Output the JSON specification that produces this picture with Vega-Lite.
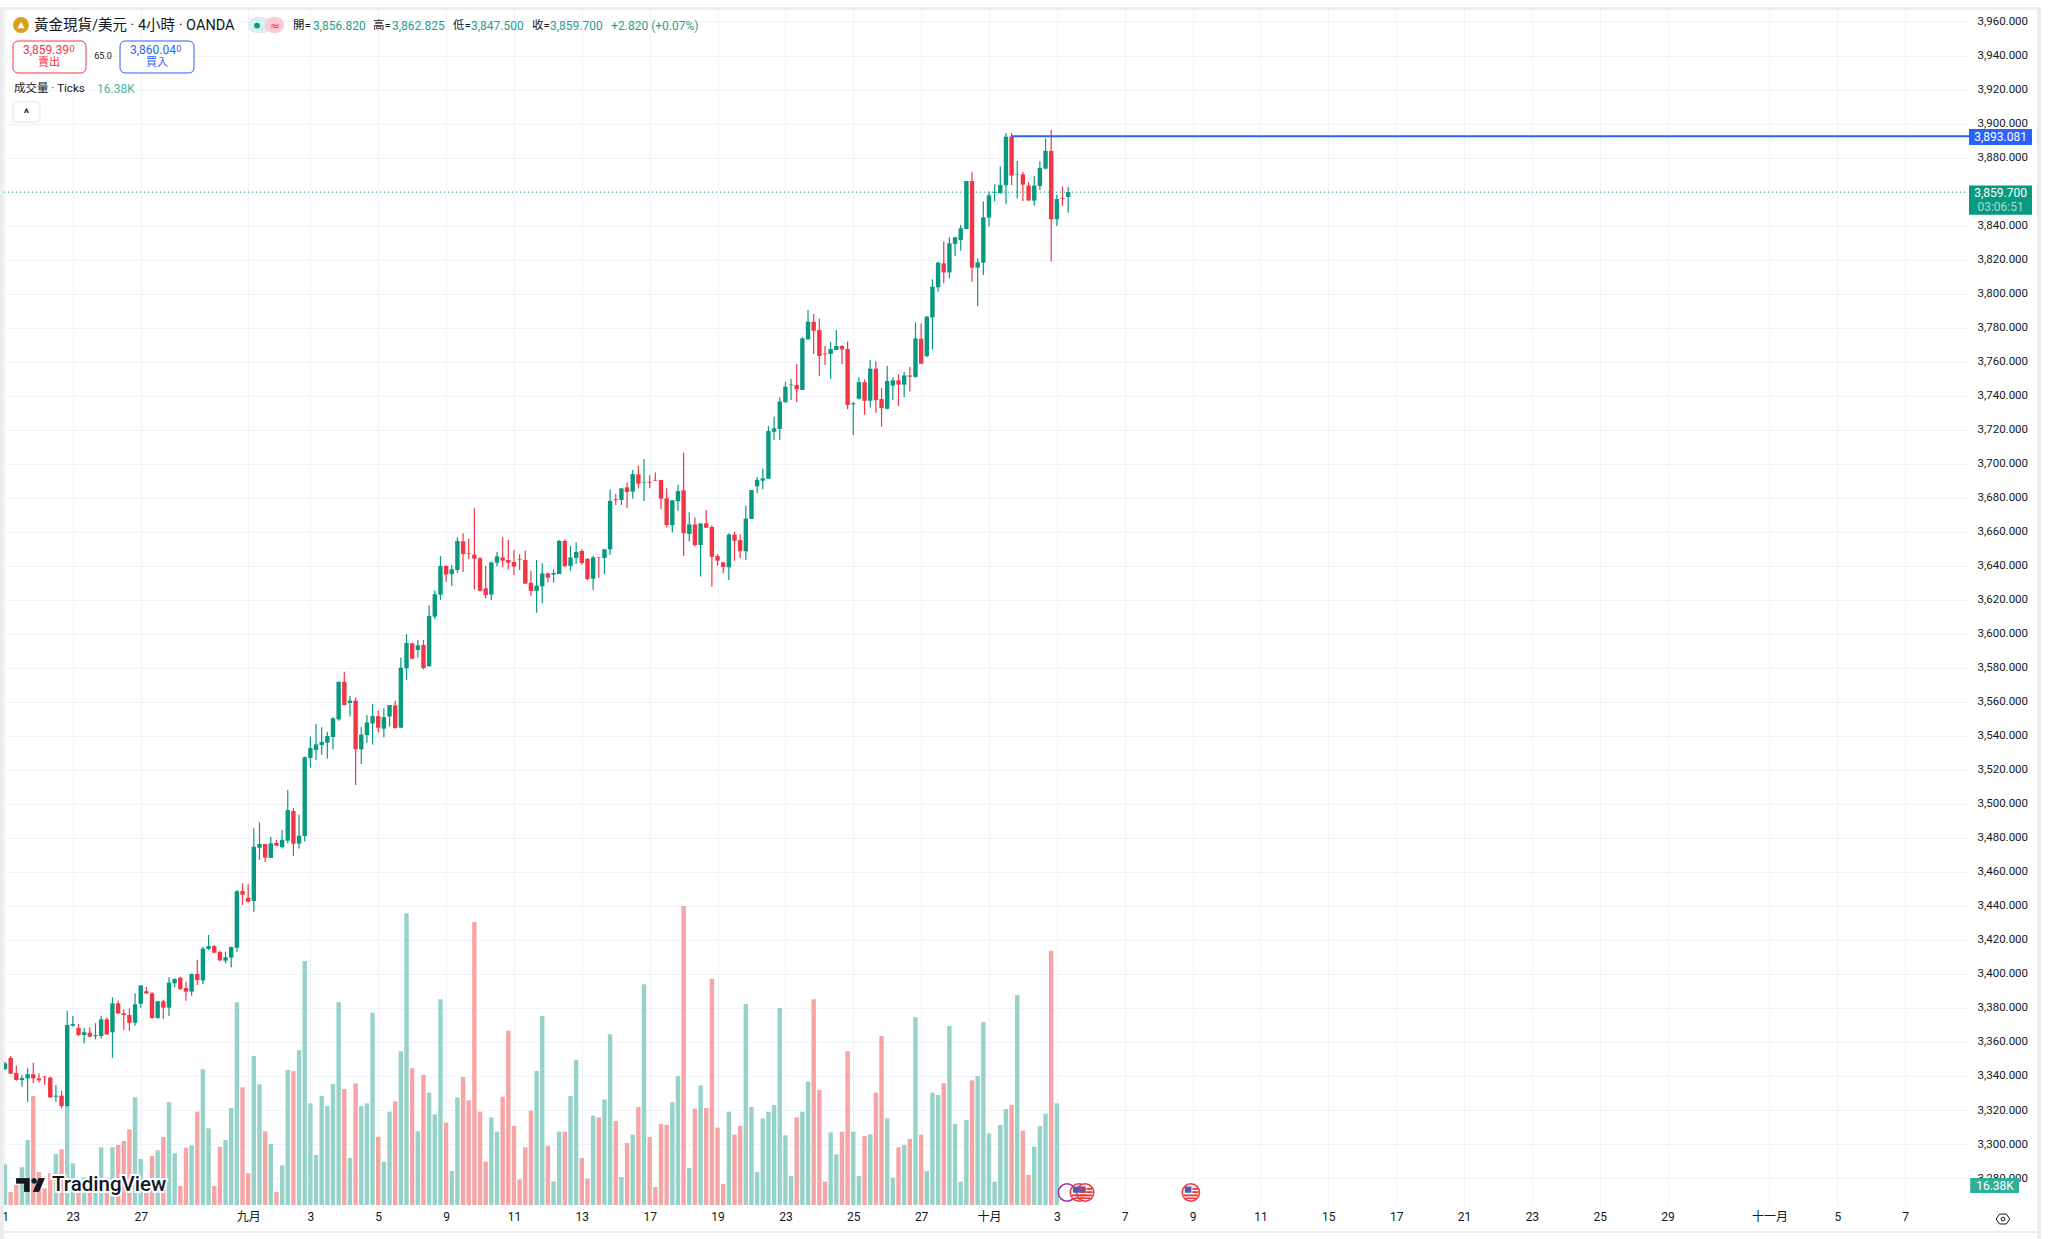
{
"$schema":"https://vega.github.io/schema/vega-lite/v6.json",
"width":1964,"height":1195,"autosize":"none","background":"white",
"padding":{"left":4,"top":10,"right":80,"bottom":34},
"config":{"view":{"stroke":null},"font":"Roboto, 'Noto Sans CJK TC'"},
"datasets":{
"candles":[
{"i":0,"dir":"up","o":3344.1,"c":3347.4,"h":3348.4,"l":3343.5},
{"i":1,"dir":"dn","o":3350.6,"c":3341.4,"h":3351.7,"l":3341.0},
{"i":2,"dir":"dn","o":3341.8,"c":3337.6,"h":3346.2,"l":3337.2},
{"i":3,"dir":"up","o":3337.6,"c":3338.8,"h":3340.6,"l":3333.7},
{"i":4,"dir":"up","o":3338.6,"c":3341.0,"h":3344.5,"l":3324.9},
{"i":5,"dir":"dn","o":3341.0,"c":3338.6,"h":3347.8,"l":3335.7},
{"i":6,"dir":"dn","o":3338.6,"c":3337.4,"h":3341.6,"l":3336.2},
{"i":7,"dir":"dn","o":3339.6,"c":3339.2,"h":3340.0,"l":3334.7},
{"i":8,"dir":"dn","o":3339.0,"c":3327.4,"h":3339.6,"l":3327.0},
{"i":9,"dir":"up","o":3327.8,"c":3328.4,"h":3334.7,"l":3324.9},
{"i":10,"dir":"dn","o":3328.4,"c":3322.3,"h":3331.4,"l":3321.0},
{"i":11,"dir":"up","o":3322.3,"c":3370.0,"h":3378.4,"l":3321.9},
{"i":12,"dir":"up","o":3369.6,"c":3370.6,"h":3375.3,"l":3369.0},
{"i":13,"dir":"dn","o":3368.2,"c":3364.1,"h":3370.6,"l":3363.5},
{"i":14,"dir":"up","o":3364.1,"c":3365.7,"h":3368.0,"l":3359.2},
{"i":15,"dir":"dn","o":3365.5,"c":3363.1,"h":3368.6,"l":3362.7},
{"i":16,"dir":"up","o":3363.5,"c":3364.1,"h":3371.0,"l":3361.5},
{"i":17,"dir":"up","o":3363.5,"c":3373.3,"h":3375.3,"l":3362.1},
{"i":18,"dir":"dn","o":3373.3,"c":3364.5,"h":3374.5,"l":3364.1},
{"i":19,"dir":"up","o":3365.7,"c":3382.7,"h":3386.2,"l":3350.6},
{"i":20,"dir":"dn","o":3382.7,"c":3376.8,"h":3384.3,"l":3376.4},
{"i":21,"dir":"dn","o":3376.8,"c":3375.8,"h":3379.2,"l":3367.0},
{"i":22,"dir":"dn","o":3375.8,"c":3371.3,"h":3379.8,"l":3366.6},
{"i":23,"dir":"up","o":3371.3,"c":3382.1,"h":3388.6,"l":3369.6},
{"i":24,"dir":"up","o":3382.5,"c":3393.3,"h":3393.3,"l":3380.2},
{"i":25,"dir":"dn","o":3389.8,"c":3388.6,"h":3392.5,"l":3388.2},
{"i":26,"dir":"dn","o":3388.6,"c":3374.1,"h":3389.4,"l":3373.7},
{"i":27,"dir":"up","o":3374.1,"c":3383.9,"h":3384.3,"l":3373.7},
{"i":28,"dir":"dn","o":3383.9,"c":3380.2,"h":3384.7,"l":3373.7},
{"i":29,"dir":"up","o":3380.2,"c":3394.9,"h":3398.0,"l":3375.3},
{"i":30,"dir":"up","o":3394.5,"c":3397.0,"h":3397.4,"l":3392.1},
{"i":31,"dir":"dn","o":3397.8,"c":3391.1,"h":3398.4,"l":3390.5},
{"i":32,"dir":"dn","o":3391.7,"c":3389.6,"h":3395.4,"l":3384.3},
{"i":33,"dir":"up","o":3389.6,"c":3400.0,"h":3400.3,"l":3387.2},
{"i":34,"dir":"dn","o":3400.0,"c":3396.4,"h":3408.2,"l":3393.5},
{"i":35,"dir":"up","o":3396.2,"c":3414.9,"h":3416.0,"l":3394.1},
{"i":36,"dir":"up","o":3414.7,"c":3416.4,"h":3422.9,"l":3414.1},
{"i":37,"dir":"dn","o":3416.4,"c":3412.5,"h":3417.0,"l":3412.1},
{"i":38,"dir":"dn","o":3412.9,"c":3408.0,"h":3413.7,"l":3407.4},
{"i":39,"dir":"up","o":3407.8,"c":3409.8,"h":3413.1,"l":3406.2},
{"i":40,"dir":"up","o":3409.6,"c":3415.8,"h":3416.0,"l":3403.9},
{"i":41,"dir":"up","o":3415.4,"c":3448.6,"h":3449.4,"l":3413.1},
{"i":42,"dir":"dn","o":3448.8,"c":3446.6,"h":3453.3,"l":3440.5},
{"i":43,"dir":"dn","o":3444.8,"c":3442.5,"h":3452.7,"l":3441.9},
{"i":44,"dir":"up","o":3442.9,"c":3474.8,"h":3485.6,"l":3436.6},
{"i":45,"dir":"up","o":3474.2,"c":3476.4,"h":3489.1,"l":3467.0},
{"i":46,"dir":"dn","o":3476.4,"c":3468.4,"h":3476.4,"l":3465.8},
{"i":47,"dir":"up","o":3468.2,"c":3476.8,"h":3480.7,"l":3468.2},
{"i":48,"dir":"dn","o":3477.0,"c":3475.4,"h":3478.8,"l":3475.2},
{"i":49,"dir":"up","o":3474.6,"c":3478.8,"h":3484.6,"l":3473.8},
{"i":50,"dir":"up","o":3478.4,"c":3496.4,"h":3508.2,"l":3476.8},
{"i":51,"dir":"dn","o":3495.8,"c":3476.6,"h":3497.4,"l":3469.3},
{"i":52,"dir":"up","o":3476.6,"c":3481.3,"h":3493.6,"l":3473.8},
{"i":53,"dir":"up","o":3481.1,"c":3527.4,"h":3527.8,"l":3477.8},
{"i":54,"dir":"up","o":3526.9,"c":3532.8,"h":3539.5,"l":3521.4},
{"i":55,"dir":"up","o":3531.7,"c":3535.0,"h":3546.9,"l":3525.8},
{"i":56,"dir":"up","o":3534.6,"c":3536.4,"h":3545.0,"l":3528.7},
{"i":57,"dir":"up","o":3536.0,"c":3539.9,"h":3542.4,"l":3526.6},
{"i":58,"dir":"up","o":3539.3,"c":3550.3,"h":3550.9,"l":3532.1},
{"i":59,"dir":"up","o":3549.7,"c":3571.8,"h":3571.8,"l":3548.9},
{"i":60,"dir":"dn","o":3571.8,"c":3558.1,"h":3577.7,"l":3557.9},
{"i":61,"dir":"up","o":3559.3,"c":3560.7,"h":3563.4,"l":3551.3},
{"i":62,"dir":"dn","o":3560.7,"c":3532.1,"h":3562.6,"l":3511.1},
{"i":63,"dir":"up","o":3532.1,"c":3540.7,"h":3545.0,"l":3523.4},
{"i":64,"dir":"up","o":3540.5,"c":3547.9,"h":3552.2,"l":3535.9},
{"i":65,"dir":"up","o":3547.3,"c":3551.6,"h":3558.7,"l":3534.8},
{"i":66,"dir":"dn","o":3551.6,"c":3544.8,"h":3554.8,"l":3542.0},
{"i":67,"dir":"up","o":3544.2,"c":3551.0,"h":3556.2,"l":3539.1},
{"i":68,"dir":"up","o":3551.4,"c":3558.1,"h":3558.1,"l":3545.4},
{"i":69,"dir":"dn","o":3557.9,"c":3544.6,"h":3560.7,"l":3544.2},
{"i":70,"dir":"up","o":3544.8,"c":3580.1,"h":3586.1,"l":3544.8},
{"i":71,"dir":"up","o":3579.7,"c":3594.6,"h":3599.7,"l":3572.8},
{"i":72,"dir":"dn","o":3594.4,"c":3585.4,"h":3594.8,"l":3585.0},
{"i":73,"dir":"up","o":3590.5,"c":3593.2,"h":3596.3,"l":3586.1},
{"i":74,"dir":"dn","o":3593.4,"c":3579.9,"h":3596.3,"l":3579.1},
{"i":75,"dir":"up","o":3580.9,"c":3610.4,"h":3616.7,"l":3580.7},
{"i":76,"dir":"up","o":3610.1,"c":3623.2,"h":3625.4,"l":3608.5},
{"i":77,"dir":"up","o":3623.0,"c":3639.9,"h":3645.7,"l":3619.9},
{"i":78,"dir":"dn","o":3639.9,"c":3634.8,"h":3640.2,"l":3630.6},
{"i":79,"dir":"up","o":3635.1,"c":3637.9,"h":3640.4,"l":3628.1},
{"i":80,"dir":"up","o":3637.5,"c":3654.6,"h":3656.7,"l":3635.9},
{"i":81,"dir":"dn","o":3654.4,"c":3646.9,"h":3659.1,"l":3636.3},
{"i":82,"dir":"dn","o":3647.3,"c":3646.9,"h":3655.9,"l":3643.8},
{"i":83,"dir":"dn","o":3646.5,"c":3644.2,"h":3673.8,"l":3626.1},
{"i":84,"dir":"dn","o":3644.4,"c":3625.3,"h":3645.3,"l":3624.8},
{"i":85,"dir":"dn","o":3626.7,"c":3622.8,"h":3639.9,"l":3620.8},
{"i":86,"dir":"up","o":3623.0,"c":3642.0,"h":3642.4,"l":3619.9},
{"i":87,"dir":"up","o":3641.8,"c":3645.5,"h":3648.1,"l":3639.5},
{"i":88,"dir":"dn","o":3644.9,"c":3643.0,"h":3656.7,"l":3639.1},
{"i":89,"dir":"dn","o":3643.4,"c":3641.8,"h":3655.1,"l":3637.9},
{"i":90,"dir":"dn","o":3642.2,"c":3639.5,"h":3649.3,"l":3634.6},
{"i":91,"dir":"dn","o":3644.0,"c":3643.6,"h":3646.7,"l":3637.5},
{"i":92,"dir":"dn","o":3643.4,"c":3629.5,"h":3648.9,"l":3629.3},
{"i":93,"dir":"dn","o":3629.9,"c":3625.2,"h":3637.1,"l":3622.4},
{"i":94,"dir":"up","o":3625.2,"c":3628.3,"h":3643.4,"l":3612.4},
{"i":95,"dir":"up","o":3627.9,"c":3635.5,"h":3641.4,"l":3617.9},
{"i":96,"dir":"dn","o":3635.5,"c":3633.0,"h":3635.9,"l":3630.2},
{"i":97,"dir":"up","o":3634.8,"c":3635.7,"h":3637.9,"l":3630.1},
{"i":98,"dir":"up","o":3635.1,"c":3654.6,"h":3655.1,"l":3635.1},
{"i":99,"dir":"dn","o":3654.6,"c":3639.9,"h":3655.5,"l":3639.1},
{"i":100,"dir":"up","o":3639.9,"c":3644.9,"h":3651.6,"l":3637.1},
{"i":101,"dir":"up","o":3644.6,"c":3648.1,"h":3653.8,"l":3641.0},
{"i":102,"dir":"dn","o":3648.7,"c":3641.6,"h":3649.7,"l":3640.6},
{"i":103,"dir":"dn","o":3644.0,"c":3632.2,"h":3644.6,"l":3631.6},
{"i":104,"dir":"up","o":3632.4,"c":3644.9,"h":3645.7,"l":3625.7},
{"i":105,"dir":"dn","o":3645.1,"c":3644.8,"h":3645.1,"l":3632.8},
{"i":106,"dir":"up","o":3644.6,"c":3649.7,"h":3649.7,"l":3635.1},
{"i":107,"dir":"up","o":3649.7,"c":3678.1,"h":3684.9,"l":3646.3},
{"i":108,"dir":"dn","o":3679.0,"c":3678.5,"h":3682.2,"l":3675.7},
{"i":109,"dir":"up","o":3678.7,"c":3685.5,"h":3685.5,"l":3675.7},
{"i":110,"dir":"dn","o":3686.1,"c":3683.4,"h":3688.9,"l":3673.8},
{"i":111,"dir":"up","o":3683.6,"c":3693.9,"h":3696.3,"l":3679.6},
{"i":112,"dir":"dn","o":3693.7,"c":3688.3,"h":3698.8,"l":3685.5},
{"i":113,"dir":"up","o":3688.9,"c":3689.2,"h":3702.8,"l":3678.1},
{"i":114,"dir":"dn","o":3689.4,"c":3688.9,"h":3693.4,"l":3685.5},
{"i":115,"dir":"dn","o":3690.2,"c":3689.8,"h":3694.9,"l":3689.8},
{"i":116,"dir":"dn","o":3690.4,"c":3679.4,"h":3690.4,"l":3673.2},
{"i":117,"dir":"dn","o":3679.6,"c":3664.0,"h":3685.5,"l":3662.6},
{"i":118,"dir":"up","o":3663.8,"c":3678.5,"h":3678.5,"l":3659.5},
{"i":119,"dir":"up","o":3677.9,"c":3683.9,"h":3687.7,"l":3672.4},
{"i":120,"dir":"dn","o":3684.3,"c":3659.1,"h":3706.5,"l":3645.7},
{"i":121,"dir":"up","o":3658.7,"c":3664.3,"h":3671.4,"l":3654.2},
{"i":122,"dir":"dn","o":3664.3,"c":3652.2,"h":3668.3,"l":3651.2},
{"i":123,"dir":"up","o":3652.2,"c":3664.9,"h":3664.9,"l":3633.6},
{"i":124,"dir":"dn","o":3664.9,"c":3662.4,"h":3672.8,"l":3662.2},
{"i":125,"dir":"dn","o":3662.8,"c":3645.3,"h":3663.8,"l":3627.7},
{"i":126,"dir":"dn","o":3645.7,"c":3643.0,"h":3646.7,"l":3640.0},
{"i":127,"dir":"dn","o":3642.0,"c":3639.3,"h":3642.0,"l":3635.5},
{"i":128,"dir":"up","o":3639.1,"c":3658.3,"h":3659.1,"l":3631.6},
{"i":129,"dir":"dn","o":3658.3,"c":3654.7,"h":3660.0,"l":3643.0},
{"i":130,"dir":"dn","o":3655.1,"c":3648.5,"h":3658.5,"l":3644.4},
{"i":131,"dir":"up","o":3648.5,"c":3667.7,"h":3675.5,"l":3643.4},
{"i":132,"dir":"up","o":3667.5,"c":3684.5,"h":3684.5,"l":3667.5},
{"i":133,"dir":"up","o":3686.7,"c":3690.4,"h":3692.0,"l":3682.6},
{"i":134,"dir":"up","o":3690.0,"c":3691.4,"h":3697.1,"l":3684.9},
{"i":135,"dir":"up","o":3691.2,"c":3719.2,"h":3722.2,"l":3691.2},
{"i":136,"dir":"up","o":3718.8,"c":3720.8,"h":3727.6,"l":3713.9},
{"i":137,"dir":"up","o":3720.4,"c":3736.5,"h":3739.0,"l":3713.9},
{"i":138,"dir":"up","o":3736.1,"c":3745.3,"h":3748.2,"l":3736.1},
{"i":139,"dir":"up","o":3746.1,"c":3746.5,"h":3749.8,"l":3737.4},
{"i":140,"dir":"dn","o":3746.3,"c":3743.7,"h":3758.6,"l":3736.1},
{"i":141,"dir":"up","o":3743.3,"c":3773.7,"h":3774.3,"l":3743.3},
{"i":142,"dir":"up","o":3773.1,"c":3783.5,"h":3790.4,"l":3773.1},
{"i":143,"dir":"dn","o":3783.5,"c":3778.2,"h":3788.0,"l":3764.5},
{"i":144,"dir":"dn","o":3778.6,"c":3763.3,"h":3785.3,"l":3751.6},
{"i":145,"dir":"dn","o":3764.7,"c":3764.3,"h":3769.2,"l":3758.0},
{"i":146,"dir":"up","o":3764.5,"c":3767.4,"h":3771.5,"l":3750.0},
{"i":147,"dir":"up","o":3766.8,"c":3769.2,"h":3778.6,"l":3766.8},
{"i":148,"dir":"dn","o":3769.2,"c":3767.2,"h":3769.6,"l":3758.6},
{"i":149,"dir":"dn","o":3767.4,"c":3734.5,"h":3771.9,"l":3732.0},
{"i":150,"dir":"up","o":3734.9,"c":3735.5,"h":3736.5,"l":3716.9},
{"i":151,"dir":"up","o":3738.2,"c":3748.0,"h":3750.8,"l":3737.8},
{"i":152,"dir":"dn","o":3748.0,"c":3737.0,"h":3749.6,"l":3728.8},
{"i":153,"dir":"up","o":3737.0,"c":3755.9,"h":3761.0,"l":3733.1},
{"i":154,"dir":"dn","o":3755.9,"c":3737.4,"h":3760.2,"l":3730.0},
{"i":155,"dir":"dn","o":3738.0,"c":3732.7,"h":3744.5,"l":3721.8},
{"i":156,"dir":"up","o":3732.3,"c":3748.6,"h":3757.4,"l":3732.0},
{"i":157,"dir":"up","o":3745.9,"c":3749.0,"h":3750.8,"l":3737.4},
{"i":158,"dir":"dn","o":3749.0,"c":3746.5,"h":3752.5,"l":3733.9},
{"i":159,"dir":"up","o":3746.5,"c":3751.9,"h":3754.1,"l":3739.0},
{"i":160,"dir":"dn","o":3751.9,"c":3751.2,"h":3757.0,"l":3742.4},
{"i":161,"dir":"up","o":3751.0,"c":3773.7,"h":3783.1,"l":3750.6},
{"i":162,"dir":"dn","o":3773.5,"c":3758.8,"h":3782.5,"l":3758.8},
{"i":163,"dir":"up","o":3763.3,"c":3786.4,"h":3786.8,"l":3762.5},
{"i":164,"dir":"up","o":3786.0,"c":3804.1,"h":3808.4,"l":3767.2},
{"i":165,"dir":"up","o":3803.7,"c":3818.2,"h":3818.8,"l":3801.1},
{"i":166,"dir":"dn","o":3817.8,"c":3812.5,"h":3830.6,"l":3806.1},
{"i":167,"dir":"up","o":3812.5,"c":3829.6,"h":3833.1,"l":3809.0},
{"i":168,"dir":"up","o":3829.2,"c":3833.1,"h":3833.5,"l":3822.1},
{"i":169,"dir":"up","o":3831.5,"c":3838.4,"h":3840.4,"l":3825.3},
{"i":170,"dir":"up","o":3838.0,"c":3866.2,"h":3866.2,"l":3838.0},
{"i":171,"dir":"dn","o":3866.2,"c":3815.3,"h":3871.3,"l":3807.0},
{"i":172,"dir":"up","o":3815.3,"c":3818.4,"h":3820.8,"l":3792.7},
{"i":173,"dir":"up","o":3818.2,"c":3844.9,"h":3854.1,"l":3811.0},
{"i":174,"dir":"up","o":3844.7,"c":3857.8,"h":3860.0,"l":3839.4},
{"i":175,"dir":"up","o":3859.2,"c":3859.6,"h":3864.3,"l":3854.1},
{"i":176,"dir":"up","o":3859.0,"c":3863.9,"h":3874.7,"l":3859.0},
{"i":177,"dir":"up","o":3863.7,"c":3892.3,"h":3894.3,"l":3852.5},
{"i":178,"dir":"dn","o":3892.3,"c":3869.4,"h":3894.3,"l":3863.9},
{"i":179,"dir":"up","o":3869.8,"c":3870.1,"h":3878.0,"l":3856.0},
{"i":180,"dir":"dn","o":3870.1,"c":3864.1,"h":3871.5,"l":3854.5},
{"i":181,"dir":"dn","o":3863.5,"c":3854.7,"h":3865.4,"l":3854.7},
{"i":182,"dir":"up","o":3854.7,"c":3863.5,"h":3869.2,"l":3851.7},
{"i":183,"dir":"up","o":3863.3,"c":3873.9,"h":3877.8,"l":3860.9},
{"i":184,"dir":"up","o":3873.5,"c":3883.9,"h":3891.3,"l":3873.1},
{"i":185,"dir":"dn","o":3883.9,"c":3843.7,"h":3896.2,"l":3818.8},
{"i":186,"dir":"up","o":3843.7,"c":3855.6,"h":3858.0,"l":3839.8},
{"i":187,"dir":"dn","o":3856.2,"c":3855.8,"h":3862.9,"l":3851.5},
{"i":188,"dir":"up","o":3856.82,"c":3859.7,"h":3862.825,"l":3847.5}
],
"volumes":[
{"i":0,"dir":"up","v":30.5},{"i":1,"dir":"dn","v":9.75},{"i":2,"dir":"dn","v":15},{"i":3,"dir":"up","v":28.25},{"i":4,"dir":"up","v":48.75},{"i":5,"dir":"dn","v":81.75},{"i":6,"dir":"dn","v":24.75},{"i":7,"dir":"dn","v":12.5},{"i":8,"dir":"dn","v":23.75},{"i":9,"dir":"up","v":38.25},
{"i":10,"dir":"dn","v":41.75},{"i":11,"dir":"up","v":75},{"i":12,"dir":"up","v":31.25},{"i":13,"dir":"dn","v":10},{"i":14,"dir":"up","v":20.75},{"i":15,"dir":"dn","v":11.25},{"i":16,"dir":"up","v":16.25},{"i":17,"dir":"up","v":43.25},{"i":18,"dir":"dn","v":20.5},{"i":19,"dir":"up","v":43.25},
{"i":20,"dir":"dn","v":45},{"i":21,"dir":"dn","v":48},{"i":22,"dir":"dn","v":56.75},{"i":23,"dir":"up","v":80.75},{"i":24,"dir":"up","v":34.5},{"i":25,"dir":"dn","v":17.5},{"i":26,"dir":"dn","v":36.75},{"i":27,"dir":"up","v":41},{"i":28,"dir":"dn","v":51},{"i":29,"dir":"up","v":77},
{"i":30,"dir":"up","v":38.75},{"i":31,"dir":"dn","v":14.25},{"i":32,"dir":"dn","v":43},{"i":33,"dir":"up","v":44.75},{"i":34,"dir":"dn","v":70},{"i":35,"dir":"up","v":101.75},{"i":36,"dir":"up","v":57.5},{"i":37,"dir":"dn","v":14.25},{"i":38,"dir":"dn","v":43.75},{"i":39,"dir":"up","v":48.75},
{"i":40,"dir":"up","v":72.75},{"i":41,"dir":"up","v":152},{"i":42,"dir":"dn","v":88.25},{"i":43,"dir":"dn","v":23.75},{"i":44,"dir":"up","v":111.75},{"i":45,"dir":"up","v":90.5},{"i":46,"dir":"dn","v":55.25},{"i":47,"dir":"up","v":45.75},{"i":48,"dir":"dn","v":9.75},{"i":49,"dir":"up","v":29.75},
{"i":50,"dir":"up","v":101.25},{"i":51,"dir":"dn","v":100.25},{"i":52,"dir":"up","v":116},{"i":53,"dir":"up","v":183},{"i":54,"dir":"up","v":76.25},{"i":55,"dir":"up","v":37.5},{"i":56,"dir":"up","v":81.75},{"i":57,"dir":"up","v":74.25},{"i":58,"dir":"up","v":90.75},{"i":59,"dir":"up","v":152},
{"i":60,"dir":"dn","v":87},{"i":61,"dir":"up","v":35.25},{"i":62,"dir":"dn","v":91.25},{"i":63,"dir":"up","v":74.25},{"i":64,"dir":"up","v":76.25},{"i":65,"dir":"up","v":144.25},{"i":66,"dir":"dn","v":51.25},{"i":67,"dir":"up","v":32.5},{"i":68,"dir":"up","v":70},{"i":69,"dir":"dn","v":77.75},
{"i":70,"dir":"up","v":115.25},{"i":71,"dir":"up","v":218.75},{"i":72,"dir":"dn","v":102.5},{"i":73,"dir":"up","v":55.25},{"i":74,"dir":"dn","v":97.5},{"i":75,"dir":"up","v":84.25},{"i":76,"dir":"up","v":68},{"i":77,"dir":"up","v":154.25},{"i":78,"dir":"dn","v":61.75},{"i":79,"dir":"up","v":25.5},
{"i":80,"dir":"up","v":80.75},{"i":81,"dir":"dn","v":96},{"i":82,"dir":"dn","v":78.5},{"i":83,"dir":"dn","v":212.25},{"i":84,"dir":"dn","v":70},{"i":85,"dir":"dn","v":32.5},{"i":86,"dir":"up","v":65.75},{"i":87,"dir":"up","v":55},{"i":88,"dir":"dn","v":81.25},{"i":89,"dir":"dn","v":130.75},
{"i":90,"dir":"dn","v":59.25},{"i":91,"dir":"dn","v":19.25},{"i":92,"dir":"dn","v":43.25},{"i":93,"dir":"dn","v":70.75},{"i":94,"dir":"up","v":100.5},{"i":95,"dir":"up","v":141.75},{"i":96,"dir":"dn","v":44.5},{"i":97,"dir":"up","v":17.75},{"i":98,"dir":"up","v":55},{"i":99,"dir":"dn","v":55},
{"i":100,"dir":"up","v":81.75},{"i":101,"dir":"up","v":108.75},{"i":102,"dir":"dn","v":35.25},{"i":103,"dir":"dn","v":19.75},{"i":104,"dir":"up","v":67},{"i":105,"dir":"dn","v":65.75},{"i":106,"dir":"up","v":79.25},{"i":107,"dir":"up","v":128},{"i":108,"dir":"dn","v":63},{"i":109,"dir":"up","v":21},
{"i":110,"dir":"dn","v":46.5},{"i":111,"dir":"up","v":52.75},{"i":112,"dir":"dn","v":73.5},{"i":113,"dir":"up","v":165.5},{"i":114,"dir":"dn","v":51},{"i":115,"dir":"dn","v":13.5},{"i":116,"dir":"dn","v":60.75},{"i":117,"dir":"dn","v":60},{"i":118,"dir":"up","v":77},{"i":119,"dir":"up","v":96.75},
{"i":120,"dir":"dn","v":224.25},{"i":121,"dir":"up","v":27.75},{"i":122,"dir":"dn","v":72.25},{"i":123,"dir":"up","v":89.75},{"i":124,"dir":"dn","v":72.75},{"i":125,"dir":"dn","v":169.75},{"i":126,"dir":"dn","v":58},{"i":127,"dir":"dn","v":15.75},{"i":128,"dir":"up","v":70},{"i":129,"dir":"dn","v":52.75},
{"i":130,"dir":"dn","v":59.25},{"i":131,"dir":"up","v":150.75},{"i":132,"dir":"up","v":73.5},{"i":133,"dir":"up","v":24.75},{"i":134,"dir":"up","v":65},{"i":135,"dir":"up","v":70},{"i":136,"dir":"up","v":75},{"i":137,"dir":"up","v":147.75},{"i":138,"dir":"up","v":52.25},{"i":139,"dir":"up","v":21.75},
{"i":140,"dir":"dn","v":65.75},{"i":141,"dir":"up","v":70},{"i":142,"dir":"up","v":92.5},{"i":143,"dir":"dn","v":154.25},{"i":144,"dir":"dn","v":86.25},{"i":145,"dir":"dn","v":17.5},{"i":146,"dir":"up","v":54.5},{"i":147,"dir":"up","v":38},{"i":148,"dir":"dn","v":55},{"i":149,"dir":"dn","v":115.25},
{"i":150,"dir":"up","v":55},{"i":151,"dir":"up","v":21.75},{"i":152,"dir":"dn","v":51.75},{"i":153,"dir":"up","v":53},{"i":154,"dir":"dn","v":84.25},{"i":155,"dir":"dn","v":126.75},{"i":156,"dir":"up","v":65},{"i":157,"dir":"up","v":20.5},{"i":158,"dir":"dn","v":43.25},{"i":159,"dir":"up","v":45},
{"i":160,"dir":"dn","v":49.5},{"i":161,"dir":"up","v":140.75},{"i":162,"dir":"dn","v":52.75},{"i":163,"dir":"up","v":25.5},{"i":164,"dir":"up","v":84.25},{"i":165,"dir":"up","v":82.5},{"i":166,"dir":"dn","v":91.25},{"i":167,"dir":"up","v":134.25},{"i":168,"dir":"up","v":60.75},{"i":169,"dir":"up","v":17.5},
{"i":170,"dir":"up","v":63.75},{"i":171,"dir":"dn","v":93.5},{"i":172,"dir":"up","v":96.75},{"i":173,"dir":"up","v":137},{"i":174,"dir":"up","v":53.75},{"i":175,"dir":"up","v":17.5},{"i":176,"dir":"up","v":60},{"i":177,"dir":"up","v":72},{"i":178,"dir":"dn","v":75},{"i":179,"dir":"up","v":157.5},
{"i":180,"dir":"dn","v":55.75},{"i":181,"dir":"dn","v":22.5},{"i":182,"dir":"up","v":43.75},{"i":183,"dir":"up","v":59.25},{"i":184,"dir":"up","v":68.5},{"i":185,"dir":"dn","v":190.75},{"i":186,"dir":"up","v":76.25}
]
},
"encoding":{"x":{"field":"i","type":"quantitative","scale":{"domain":[-0.177,347.12],"nice":false,"zero":false,"padding":0},
"axis":{"title":null,"orient":"bottom","domain":false,"ticks":false,"grid":true,"gridColor":"#f0f3fa","labelFont":"Roboto, 'Noto Sans CJK TC'","labelFontSize":12,"labelColor":"#131722","labelPadding":6,"labelOverlap":false,"labelBound":false,"labelFlush":false,
"values":[0,12,24,43,54,66,78,90,102,114,126,138,150,162,174,186,198,210,222,234,246,258,270,282,294,312,324,336],
"labelExpr":"{'0':'1','12':'23','24':'27','43':'九月','54':'3','66':'5','78':'9','90':'11','102':'13','114':'17','126':'19','138':'23','150':'25','162':'27','174':'十月','186':'3','198':'7','210':'9','222':'11','234':'15','246':'17','258':'21','270':'23','282':'25','294':'29','312':'十一月','324':'5','336':'7'}[datum.value]"}}},
"resolve":{"scale":{"y":"independent","color":"independent"}},
"layer":[
{"data":{"name":"volumes"},"mark":{"type":"bar","size":4.4},
"encoding":{"y":{"field":"v","type":"quantitative","axis":null,"scale":{"domain":[0,896.25],"nice":false,"zero":false}},
"color":{"field":"dir","type":"nominal","legend":null,"scale":{"domain":["up","dn"],"range":["#96d2c8","#f5a5a5"]}}}},
{"data":{"values":[{"i":-0.177,"i2":347.12,"p":3859.7,"p2":3859.7}]},"mark":{"type":"rule","color":"#089981","strokeWidth":1,"strokeDash":[1,3]},
"encoding":{"x2":{"field":"i2"},"y":{"field":"p","type":"quantitative","scale":{"domain":[3264.15,3966.76],"nice":false,"zero":false},
"axis":{"title":null,"orient":"right","domain":false,"ticks":false,"grid":true,"gridColor":"#f0f3fa","labelFont":"Roboto","labelFontSize":11.5,"labelColor":"#131722","labelPadding":9,"labelOverlap":false,"labelBound":false,"format":",.3f",
"values":[3280,3300,3320,3340,3360,3380,3400,3420,3440,3460,3480,3500,3520,3540,3560,3580,3600,3620,3640,3660,3680,3700,3720,3740,3760,3780,3800,3820,3840,3860,3880,3900,3920,3940,3960]}}}},
{"layer":[
{"data":{"name":"candles"},"mark":{"type":"rule","strokeWidth":1.2},
"encoding":{"y":{"field":"h","type":"quantitative","axis":null,"scale":{"domain":[3264.15,3966.76],"nice":false,"zero":false}},"y2":{"field":"l"},
"color":{"field":"dir","type":"nominal","legend":null,"scale":{"domain":["up","dn"],"range":["#089981","#f23645"]}}}},
{"data":{"name":"candles"},"mark":{"type":"bar","size":4.4},
"encoding":{"y":{"field":"o","type":"quantitative","axis":null,"scale":{"domain":[3264.15,3966.76],"nice":false,"zero":false}},"y2":{"field":"c"},
"color":{"field":"dir","type":"nominal","legend":null,"scale":{"domain":["up","dn"],"range":["#089981","#f23645"]}}}},
{"data":{"values":[{"i":177.9,"i2":347.3,"p":3892.6}]},"mark":{"type":"rule","color":"#2962ff","strokeWidth":2},
"encoding":{"x2":{"field":"i2"},"y":{"field":"p","type":"quantitative","axis":null,"scale":{"domain":[3264.15,3966.76],"nice":false,"zero":false}}}},
{"data":{"values":[{"i":-0.884,"i2":-0.177,"p":3968.5,"p2":3244.16},{"i":-0.884,"i2":360.04,"p":3968.5,"p2":3966.76},{"i":359.33,"i2":360.04,"p":3966.76,"p2":3244.16},{"i":-0.884,"i2":360.04,"p":3248.9,"p2":3247.7}]},"mark":{"type":"rect","color":"#ececec"},
"encoding":{"x2":{"field":"i2"},"y":{"field":"p","type":"quantitative","axis":null,"scale":{"domain":[3264.15,3966.76],"nice":false,"zero":false}},"y2":{"field":"p2"}}},
{"data":{"values":[{"i":347.3,"i2":358.44,"p":3896.8,"p2":3887.4}]},"mark":{"type":"rect","color":"#2962ff"},
"encoding":{"x2":{"field":"i2"},"y":{"field":"p","type":"quantitative","axis":null,"scale":{"domain":[3264.15,3966.76],"nice":false,"zero":false}},"y2":{"field":"p2"}}},
{"data":{"values":[{"i":347.3,"i2":358.44,"p":3863.5,"p2":3846.4}]},"mark":{"type":"rect","color":"#089981"},
"encoding":{"x2":{"field":"i2"},"y":{"field":"p","type":"quantitative","axis":null,"scale":{"domain":[3264.15,3966.76],"nice":false,"zero":false}},"y2":{"field":"p2"}}},
{"data":{"values":[{"i":347.5,"i2":356.15,"p":3280.0,"p2":3271.2}]},"mark":{"type":"rect","color":"#2fae9a"},
"encoding":{"x2":{"field":"i2"},"y":{"field":"p","type":"quantitative","axis":null,"scale":{"domain":[3264.15,3966.76],"nice":false,"zero":false}},"y2":{"field":"p2"}}},
{"data":{"values":[{"i":352.88,"p":3892.1,"t":"3,893.081"},{"i":352.88,"p":3859.0,"t":"3,859.700"},{"i":351.9,"p":3275.3,"t":"16.38K"}]},"mark":{"type":"text","color":"white","fontSize":12,"font":"Roboto"},
"encoding":{"y":{"field":"p","type":"quantitative","axis":null,"scale":{"domain":[3264.15,3966.76],"nice":false,"zero":false}},"text":{"field":"t"}}},
{"data":{"values":[{"i":352.88,"p":3851.1,"t":"03:06:51"}]},"mark":{"type":"text","color":"#a8ddd2","fontSize":12,"font":"Roboto"},
"encoding":{"y":{"field":"p","type":"quantitative","axis":null,"scale":{"domain":[3264.15,3966.76],"nice":false,"zero":false}},"text":{"field":"t"}}},
{"data":{"values":[{"i":2.83,"p":3957.9}]},"mark":{"type":"point","filled":true,"color":"#d9a01e","size":254,"opacity":1},
"encoding":{"y":{"field":"p","type":"quantitative","axis":null,"scale":{"domain":[3264.15,3966.76],"nice":false,"zero":false}}}},
{"data":{"values":[{"i":2.83,"p":3957.9}]},"mark":{"type":"point","filled":true,"color":"white","size":50,"shape":"triangle-up","opacity":1},
"encoding":{"y":{"field":"p","type":"quantitative","axis":null,"scale":{"domain":[3264.15,3966.76],"nice":false,"zero":false}}}},
{"data":{"values":[{"i":5.13,"p":3957.4,"t":"黃金現貨/美元 · 4小時 · OANDA"}]},"mark":{"type":"text","align":"left","color":"#131722","fontSize":14.5,"font":"Roboto, 'Noto Sans CJK TC'"},
"encoding":{"y":{"field":"p","type":"quantitative","axis":null,"scale":{"domain":[3264.15,3966.76],"nice":false,"zero":false}},"text":{"field":"t"}}},
{"data":{"values":[{"i":42.97,"i2":47,"p":3962.6,"p2":3953.2}]},"mark":{"type":"rect","color":"#d7f2ec","cornerRadius":8},
"encoding":{"x2":{"field":"i2"},"y":{"field":"p","type":"quantitative","axis":null,"scale":{"domain":[3264.15,3966.76],"nice":false,"zero":false}},"y2":{"field":"p2"}}},
{"data":{"values":[{"i":46,"i2":49.34,"p":3962.6,"p2":3953.2}]},"mark":{"type":"rect","color":"#f9c9d6","cornerRadius":8},
"encoding":{"x2":{"field":"i2"},"y":{"field":"p","type":"quantitative","axis":null,"scale":{"domain":[3264.15,3966.76],"nice":false,"zero":false}},"y2":{"field":"p2"}}},
{"data":{"values":[{"i":44.56,"p":3957.6}]},"mark":{"type":"point","filled":true,"color":"#089981","size":34,"opacity":1},
"encoding":{"y":{"field":"p","type":"quantitative","axis":null,"scale":{"domain":[3264.15,3966.76],"nice":false,"zero":false}}}},
{"data":{"values":[{"i":47.75,"p":3957.4,"t":"≈"}]},"mark":{"type":"text","color":"#f23645","fontSize":12,"font":"DejaVu Sans"},
"encoding":{"y":{"field":"p","type":"quantitative","axis":null,"scale":{"domain":[3264.15,3966.76],"nice":false,"zero":false}},"text":{"field":"t"}}},
{"data":{"values":[{"i":50.93,"p":3957.2,"t":"開="},{"i":65.07,"p":3957.2,"t":"高="},{"i":79.2,"p":3957.2,"t":"低="},{"i":93.2,"p":3957.2,"t":"收="},{"i":1.59,"p":3920.3,"t":"成交量 · Ticks"}]},"mark":{"type":"text","align":"left","color":"#131722","fontSize":11.5,"font":"Roboto, 'Noto Sans CJK TC'"},
"encoding":{"y":{"field":"p","type":"quantitative","axis":null,"scale":{"domain":[3264.15,3966.76],"nice":false,"zero":false}},"text":{"field":"t"}}},
{"data":{"values":[{"i":54.46,"p":3957.2,"t":"3,856.820"},{"i":68.43,"p":3957.2,"t":"3,862.825"},{"i":82.4,"p":3957.2,"t":"3,847.500"},{"i":96.37,"p":3957.2,"t":"3,859.700"},{"i":107.2,"p":3957.2,"t":"+2.820 (+0.07%)"}]},"mark":{"type":"text","align":"left","color":"#1f9e87","fontSize":12,"font":"Roboto"},
"encoding":{"y":{"field":"p","type":"quantitative","axis":null,"scale":{"domain":[3264.15,3966.76],"nice":false,"zero":false}},"text":{"field":"t"}}},
{"data":{"values":[{"i":16.27,"p":3920.3,"t":"16.38K"}]},"mark":{"type":"text","align":"left","color":"#4db6a6","fontSize":12,"font":"Roboto"},
"encoding":{"y":{"field":"p","type":"quantitative","axis":null,"scale":{"domain":[3264.15,3966.76],"nice":false,"zero":false}},"text":{"field":"t"}}},
{"data":{"values":[{"i":1.41,"i2":14.32,"p":3948.53,"p2":3929.72}]},"mark":{"type":"rect","fill":"white","stroke":"#f23645","strokeWidth":1,"cornerRadius":5},
"encoding":{"x2":{"field":"i2"},"y":{"field":"p","type":"quantitative","axis":null,"scale":{"domain":[3264.15,3966.76],"nice":false,"zero":false}},"y2":{"field":"p2"}}},
{"data":{"values":[{"i":20.34,"i2":33.42,"p":3948.53,"p2":3929.72}]},"mark":{"type":"rect","fill":"white","stroke":"#2962ff","strokeWidth":1,"cornerRadius":5},
"encoding":{"x2":{"field":"i2"},"y":{"field":"p","type":"quantitative","axis":null,"scale":{"domain":[3264.15,3966.76],"nice":false,"zero":false}},"y2":{"field":"p2"}}},
{"data":{"values":[{"i":3.18,"p":3943.5,"t":"3,859.39"}]},"mark":{"type":"text","align":"left","color":"#f23645","fontSize":12,"font":"Roboto"},
"encoding":{"y":{"field":"p","type":"quantitative","axis":null,"scale":{"domain":[3264.15,3966.76],"nice":false,"zero":false}},"text":{"field":"t"}}},
{"data":{"values":[{"i":11.4,"p":3944,"t":"0"}]},"mark":{"type":"text","align":"left","color":"#f23645","fontSize":9,"font":"Roboto"},
"encoding":{"y":{"field":"p","type":"quantitative","axis":null,"scale":{"domain":[3264.15,3966.76],"nice":false,"zero":false}},"text":{"field":"t"}}},
{"data":{"values":[{"i":7.78,"p":3935.6,"t":"賣出"}]},"mark":{"type":"text","color":"#f23645","fontSize":11,"font":"Noto Sans CJK TC"},
"encoding":{"y":{"field":"p","type":"quantitative","axis":null,"scale":{"domain":[3264.15,3966.76],"nice":false,"zero":false}},"text":{"field":"t"}}},
{"data":{"values":[{"i":22.1,"p":3943.5,"t":"3,860.04"}]},"mark":{"type":"text","align":"left","color":"#2962ff","fontSize":12,"font":"Roboto"},
"encoding":{"y":{"field":"p","type":"quantitative","axis":null,"scale":{"domain":[3264.15,3966.76],"nice":false,"zero":false}},"text":{"field":"t"}}},
{"data":{"values":[{"i":30.3,"p":3944,"t":"0"}]},"mark":{"type":"text","align":"left","color":"#2962ff","fontSize":9,"font":"Roboto"},
"encoding":{"y":{"field":"p","type":"quantitative","axis":null,"scale":{"domain":[3264.15,3966.76],"nice":false,"zero":false}},"text":{"field":"t"}}},
{"data":{"values":[{"i":26.88,"p":3935.6,"t":"買入"}]},"mark":{"type":"text","color":"#2962ff","fontSize":11,"font":"Noto Sans CJK TC"},
"encoding":{"y":{"field":"p","type":"quantitative","axis":null,"scale":{"domain":[3264.15,3966.76],"nice":false,"zero":false}},"text":{"field":"t"}}},
{"data":{"values":[{"i":17.33,"p":3939.7,"t":"65.0"}]},"mark":{"type":"text","color":"#131722","fontSize":9,"font":"Roboto"},
"encoding":{"y":{"field":"p","type":"quantitative","axis":null,"scale":{"domain":[3264.15,3966.76],"nice":false,"zero":false}},"text":{"field":"t"}}},
{"data":{"values":[{"i":1.41,"i2":6.19,"p":3912.7,"p2":3900.9}]},"mark":{"type":"rect","fill":"white","stroke":"#e0e3eb","strokeWidth":1,"cornerRadius":3},
"encoding":{"x2":{"field":"i2"},"y":{"field":"p","type":"quantitative","axis":null,"scale":{"domain":[3264.15,3966.76],"nice":false,"zero":false}},"y2":{"field":"p2"}}},
{"data":{"values":[{"i":3.8,"p":3905.8,"t":"^"}]},"mark":{"type":"text","color":"#131722","fontSize":12,"fontWeight":"bold","font":"Roboto"},
"encoding":{"y":{"field":"p","type":"quantitative","axis":null,"scale":{"domain":[3264.15,3966.76],"nice":false,"zero":false}},"text":{"field":"t"}}},
{"data":{"values":[{"i":8.31,"p":3275.9,"t":"TradingView"}]},"mark":{"type":"text","align":"left","color":"white","stroke":"white","strokeWidth":4,"fontSize":20.5,"fontWeight":500,"font":"Roboto"},
"encoding":{"y":{"field":"p","type":"quantitative","axis":null,"scale":{"domain":[3264.15,3966.76],"nice":false,"zero":false}},"text":{"field":"t"}}},
{"data":{"values":[{"i":8.31,"p":3275.9,"t":"TradingView"}]},"mark":{"type":"text","align":"left","color":"#131722","fontSize":20.5,"fontWeight":500,"font":"Roboto"},
"encoding":{"y":{"field":"p","type":"quantitative","axis":null,"scale":{"domain":[3264.15,3966.76],"nice":false,"zero":false}},"text":{"field":"t"}}},
{"data":{"values":[{"i":4.51,"p":3275.9}]},"mark":{"type":"point","filled":true,"fill":"#131722","stroke":"white","strokeWidth":0.15,"opacity":1,"size":841,"shape":"M-1 -.48 H-.05 V.48 H-.45 V-.08 H-1 Z M.05 -.28 A.2 .2 0 1 0 .45 -.28 A.2 .2 0 1 0 .05 -.28 Z M.55 -.48 H1 L.6 .48 H.15 Z"},
"encoding":{"y":{"field":"p","type":"quantitative","axis":null,"scale":{"domain":[3264.15,3966.76],"nice":false,"zero":false}}}},
{"data":{"values":[{"i":187.8,"p":3271.5}]},"mark":{"type":"point","filled":false,"fill":"white","stroke":"#9c27b0","strokeWidth":1.5,"size":300,"opacity":1},
"encoding":{"y":{"field":"p","type":"quantitative","axis":null,"scale":{"domain":[3264.15,3966.76],"nice":false,"zero":false}}}},
{"data":{"values":[{"i":189.9,"p":3271.5},{"i":191,"p":3271.5},{"i":209.7,"p":3271.5}]},"mark":{"type":"point","filled":false,"fill":"#fdeaea","stroke":"#f23645","strokeWidth":1.5,"size":300,"opacity":1},
"encoding":{"y":{"field":"p","type":"quantitative","axis":null,"scale":{"domain":[3264.15,3966.76],"nice":false,"zero":false}}}},
{"data":{"values":[{"i":189.9,"p":3271.5},{"i":191,"p":3271.5},{"i":209.7,"p":3271.5}]},"mark":{"type":"point","filled":true,"color":"#3f62b5","opacity":1,"size":400,"shape":"M-.6 -.6 H.05 V.02 H-.6 Z"},
"encoding":{"y":{"field":"p","type":"quantitative","axis":null,"scale":{"domain":[3264.15,3966.76],"nice":false,"zero":false}}}},
{"data":{"values":[{"i":189.9,"p":3271.5},{"i":191,"p":3271.5},{"i":209.7,"p":3271.5}]},"mark":{"type":"point","filled":true,"color":"#e53935","opacity":1,"size":400,"shape":"M.15 -.45 H.7 V-.28 H.15 Z M.15 -.12 H.75 V.05 H.15 Z M-.7 .2 H.7 V.38 H-.7 Z M-.5 .5 H.5 V.66 H-.5 Z"},
"encoding":{"y":{"field":"p","type":"quantitative","axis":null,"scale":{"domain":[3264.15,3966.76],"nice":false,"zero":false}}}},
{"data":{"values":[{"i":353.3,"p":3255.9}]},"mark":{"type":"point","filled":false,"stroke":"#131722","strokeWidth":1,"size":256,"opacity":1,"shape":"M-.85 0 L-.42 -.62 H.42 L.85 0 L.42 .62 H-.42 Z"},
"encoding":{"y":{"field":"p","type":"quantitative","axis":null,"scale":{"domain":[3264.15,3966.76],"nice":false,"zero":false}}}},
{"data":{"values":[{"i":353.3,"p":3255.9}]},"mark":{"type":"point","filled":false,"stroke":"#131722","strokeWidth":1,"size":14,"opacity":1},
"encoding":{"y":{"field":"p","type":"quantitative","axis":null,"scale":{"domain":[3264.15,3966.76],"nice":false,"zero":false}}}}
]}
]}
